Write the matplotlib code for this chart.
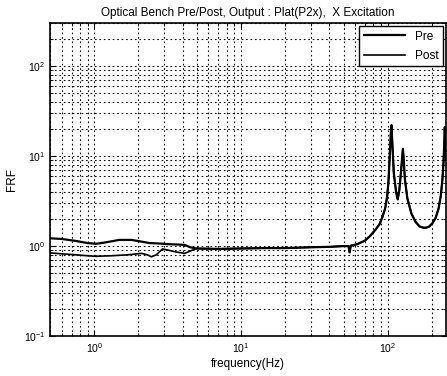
import matplotlib
matplotlib.use("Agg")
import matplotlib.pyplot as plt

# shared response above ~5 Hz (Pre and Post coincide)
freq_hi = [5.0, 7.0, 10.0, 15.0, 20.0, 30.0, 40.0, 50.0, 54.0, 55.0, 56.0, 62.0,
           70.0, 76.0, 82.0, 88.0, 92.0, 96.0, 99.0, 101.0, 103.0, 105.0, 106.0,
           107.5, 110.0, 114.0, 117.0, 120.0, 123.0, 126.0, 127.0, 128.5, 131.0,
           136.0, 145.0, 155.0, 165.0, 175.0, 183.0, 192.0, 202.0, 212.0, 222.0,
           230.0, 236.0, 240.0, 243.0, 245.0, 247.0, 250.0]
frf_hi = [0.94, 0.93, 0.94, 0.95, 0.95, 0.97, 0.98, 1.0, 1.0, 0.85, 1.01, 1.05,
          1.15, 1.3, 1.5, 1.75, 2.1, 2.6, 3.5, 5.0, 9.0, 18.0, 22.0, 14.0, 6.5,
          4.0, 3.3, 4.2, 6.5, 10.5, 12.0, 9.0, 5.5, 3.4, 2.3, 1.85, 1.65, 1.6,
          1.6, 1.65, 1.8, 2.05, 2.6, 3.6, 5.5, 8.5, 14.0, 21.0, 15.0, 9.0]

freq_pre_lo = [0.5, 0.6, 0.75, 0.9, 1.03, 1.2, 1.48, 1.8, 2.1, 2.38, 2.7, 3.2,
               3.7, 4.14, 4.5]
frf_pre_lo = [1.22, 1.2, 1.14, 1.08, 1.06, 1.1, 1.17, 1.17, 1.12, 1.08, 1.07,
              1.05, 1.04, 1.03, 0.97]

freq_post_lo = [0.5, 0.6, 0.75, 0.9, 1.03, 1.3, 1.7, 2.1, 2.3, 2.45, 2.65, 2.92,
                3.2, 3.6, 4.14, 4.5]
frf_post_lo = [0.84, 0.82, 0.8, 0.78, 0.77, 0.78, 0.8, 0.83, 0.8, 0.76, 0.8,
               0.93, 0.9, 0.86, 0.83, 0.88]

freq_pre = freq_pre_lo + freq_hi
frf_pre = frf_pre_lo + frf_hi
freq_post = freq_post_lo + freq_hi
frf_post = frf_post_lo + frf_hi

plt.rcParams.update({
    "font.family": "Liberation Sans",
    "font.size": 7,
})

fig = plt.figure(figsize=(4.47, 3.76), dpi=100)
ax = fig.add_axes([0.112, 0.106, 0.886, 0.833])

ax.loglog(freq_pre, frf_pre, color="black", lw=1.6, label="Pre")
ax.loglog(freq_post, frf_post, color="black", lw=1.2, label="Post")

ax.set_xlim(0.5, 250)
ax.set_ylim(0.1, 300)
ax.grid(True, which="both", color="black", ls=(0, (1.5, 2.5)), lw=0.8)
ax.tick_params(which="both", direction="in", top=True, right=True, labelsize=7.5)
for s in ax.spines.values():
    s.set_linewidth(1.2)

ax.set_xlabel("frequency(Hz)", fontsize=8.5, labelpad=2)
ax.set_ylabel("FRF", fontsize=8.5)
ax.set_title("Optical Bench Pre/Post, Output : Plat(P2x),  X Excitation",
             fontsize=8.5, pad=5)

leg = ax.legend(loc="upper right", bbox_to_anchor=(1.0, 1.0), borderaxespad=0.25,
                fancybox=False, framealpha=1, edgecolor="black", fontsize=8.5,
                handlelength=3.5, labelspacing=0.6)
leg.get_frame().set_linewidth(1.0)

fig.savefig("out.png", dpi=100)
